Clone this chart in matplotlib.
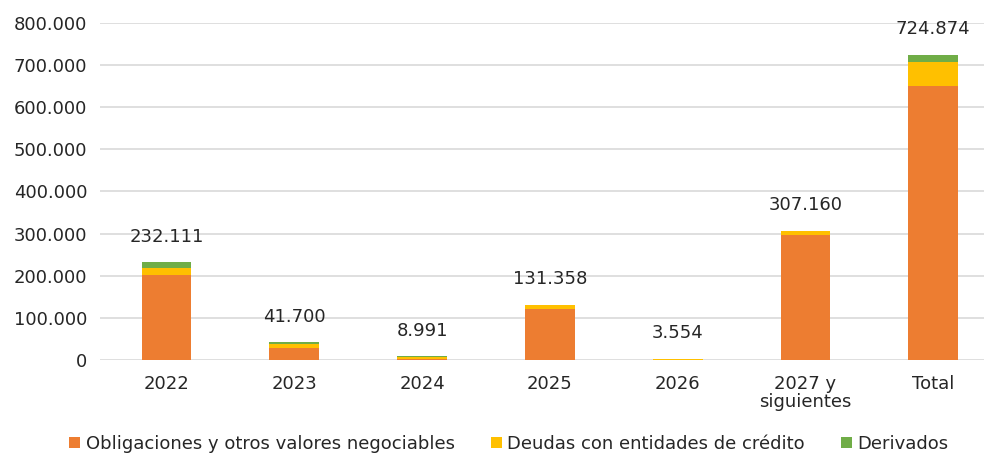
import numpy as np
import matplotlib.pyplot as plt

categories = ['2022', '2023', '2024', '2025', '2026', '2027 y\nsiguientes', 'Total']
obligaciones = [202000, 28000, 3000, 121000, 0, 297000, 651000]
deudas = [17000, 10000, 4500, 10358, 3554, 10160, 55572]
derivados = [13111, 3700, 1491, 0, 0, 0, 18302]
totals = [232111, 41700, 8991, 131358, 3554, 307160, 724874]
total_labels = ['232.111', '41.700', '8.991', '131.358', '3.554', '307.160', '724.874']

names = ['Obligaciones y otros valores negociables', 'Deudas con entidades de crédito', 'Derivados']
colors = ['#ED7D31', '#FFC000', '#70AD47']

fig = plt.figure(figsize=(9.86, 4.53), dpi=100)
ax = fig.add_axes([0.1014, 0.2053, 0.897, 0.744])

x = np.arange(len(categories))
w = 0.39
bottom = np.zeros(len(categories))
for vals, name, c in zip([obligaciones, deudas, derivados], names, colors):
    ax.bar(x, vals, w, bottom=bottom, color=c, label=name, zorder=3)
    bottom += np.array(vals)

for xi, t, lab in zip(x, totals, total_labels):
    ax.annotate(lab, (xi, t), xytext=(0, 12), textcoords='offset points',
                ha='center', va='bottom', fontsize=13, color='#262626')

ax.set_ylim(0, 800000)
ax.set_yticks(np.arange(0, 800001, 100000))
ax.set_yticklabels(['0'] + [f'{v // 1000}.000' for v in range(100000, 800001, 100000)])
ax.set_xlim(-0.52, 6.4)
ax.set_xticks(x)
ax.set_xticklabels(categories, linespacing=1.0)
ax.tick_params(axis='both', length=0, labelsize=13, labelcolor='#262626')
ax.tick_params(axis='y', pad=9)
ax.tick_params(axis='x', pad=11)
ax.grid(axis='y', color='#d9d9d9', linewidth=1.2, zorder=0)
for s in ax.spines.values():
    s.set_visible(False)

fig.legend(loc='lower center', bbox_to_anchor=(0.516, -0.035), ncol=3, frameon=False,
           fontsize=13, handlelength=0.6, handleheight=0.6, handletextpad=0.3,
           columnspacing=2.0, labelcolor='#262626')

fig.savefig('out.png', dpi=100)
